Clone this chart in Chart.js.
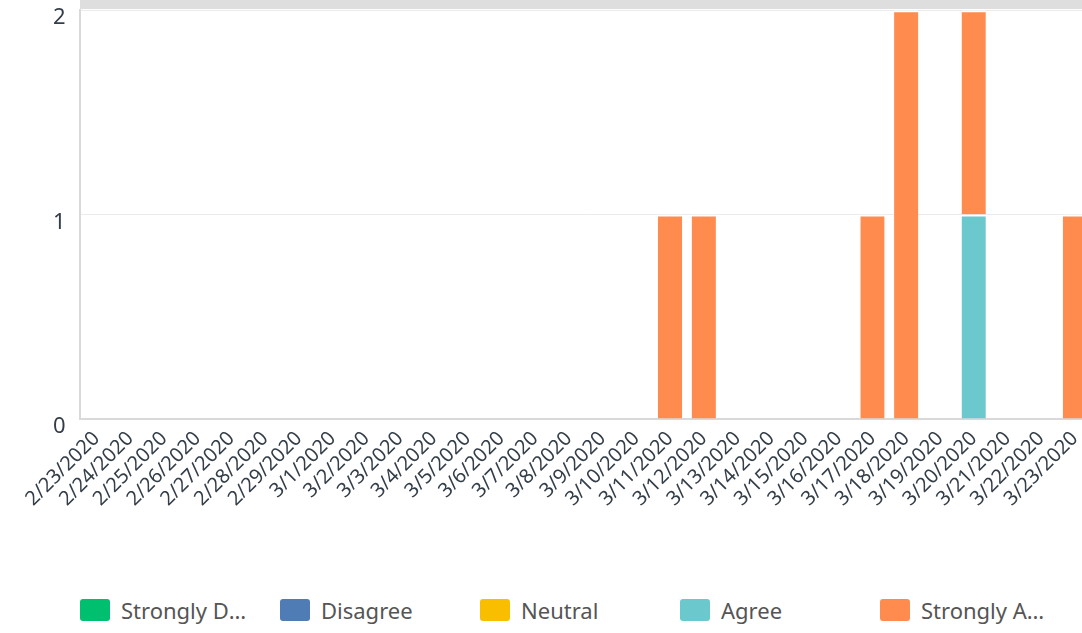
<!DOCTYPE html>
<html>
<head>
<meta charset="utf-8">
<script src="https://cdn.jsdelivr.net/npm/chart.js@4"></script>
<style>
  body { margin: 0; overflow: hidden; background: #fff; font-family: "Noto Sans", sans-serif; }
  .topBand { position: absolute; left: 80px; top: 0; width: 1020px; height: 9px; background: #dedede; }
  .chartBox { position: absolute; left: 0; top: -17px; width: 1100px; height: 536px; }
  .legend { position: absolute; left: 0; top: 598px; width: 1100px; height: 26px; }
  .legend .item { position: absolute; top: 0; display: flex; align-items: center; height: 24px; }
  .legend .swatch { width: 30px; height: 22px; border-radius: 3px; margin-right: 11px; }
  .legend .text { font-size: 22px; color: #555; white-space: nowrap; overflow: hidden; text-overflow: ellipsis; max-width: 128px; }
</style>
</head>
<body>
<div class="chartBox"><canvas id="chart"></canvas></div>
<div class="topBand"></div>
<div class="legend" id="legend"></div>
<script>
// categories
const dates = ["2/23/2020","2/24/2020","2/25/2020","2/26/2020","2/27/2020","2/28/2020","2/29/2020",
  "3/1/2020","3/2/2020","3/3/2020","3/4/2020","3/5/2020","3/6/2020","3/7/2020","3/8/2020","3/9/2020",
  "3/10/2020","3/11/2020","3/12/2020","3/13/2020","3/14/2020","3/15/2020","3/16/2020","3/17/2020",
  "3/18/2020","3/19/2020","3/20/2020","3/21/2020","3/22/2020","3/23/2020"];

const seriesNames = ["Strongly Disagree", "Disagree", "Neutral", "Agree", "Strongly Agree"];
const seriesColors = ["#00bf6f", "#507cb6", "#f9be00", "#6bc8cd", "#ff8b4f"];

// responses per day
const stronglyDisagree = [0,0,0,0,0,0,0,0,0,0,0,0,0,0,0,0,0,0,0,0,0,0,0,0,0,0,0,0,0,0];
const disagree         = [0,0,0,0,0,0,0,0,0,0,0,0,0,0,0,0,0,0,0,0,0,0,0,0,0,0,0,0,0,0];
const neutral          = [0,0,0,0,0,0,0,0,0,0,0,0,0,0,0,0,0,0,0,0,0,0,0,0,0,0,0,0,0,0];
const agree            = [0,0,0,0,0,0,0,0,0,0,0,0,0,0,0,0,0,0,0,0,0,0,0,0,0,0,1,0,0,0];
const stronglyAgree    = [0,0,0,0,0,0,0,0,0,0,0,0,0,0,0,0,0,1,1,0,0,0,0,1,2,0,1,0,0,1];

const yTicks = [0, 1, 2];

const values = [stronglyDisagree, disagree, neutral, agree, stronglyAgree];

let datasets = [];
for (let i = 0; i < seriesNames.length; i++) {
  datasets.push({
    label: seriesNames[i],
    data: values[i],
    backgroundColor: seriesColors[i],
    borderColor: "#ffffff",
    borderWidth: {top: 2, left: 0, right: 0, bottom: 0},
    borderSkipped: "start",
    categoryPercentage: 1,
    barPercentage: 0.72
  });
}

new Chart("chart", {
  type: "bar",
  data: { labels: dates, datasets: datasets },
  options: {
    responsive: true,
    maintainAspectRatio: false,
    animation: false,
    layout: { padding: { left: 39, top: 0, right: 7, bottom: 0 } },
    plugins: {
      legend: { display: false },
      tooltip: { enabled: false }
    },
    scales: {
      x: {
        stacked: true,
        grid: { display: false, drawTicks: false },
        border: { display: true, color: "#d9d9d9", width: 2 },
        ticks: {
          autoSkip: false,
          maxRotation: 45,
          minRotation: 45,
          padding: 8,
          color: "#333e48",
          font: { family: "Noto Sans", size: 20 }
        }
      },
      y: {
        stacked: true,
        min: yTicks[0],
        max: yTicks[yTicks.length - 1],
        afterBuildTicks: function(axis) {
          axis.ticks = yTicks.map(v => ({ value: v }));
        },
        grid: { color: "#ebebeb", lineWidth: 1, drawTicks: false },
        border: { display: true, color: "#d9d9d9", width: 2 },
        ticks: {
          padding: 14,
          labelOffset: 8,
          color: "#333e48",
          font: { family: "Noto Sans", size: 22 }
        }
      }
    }
  }
});

// legend
const legend = document.getElementById("legend");
seriesNames.forEach(function(name, i) {
  const item = document.createElement("div");
  item.className = "item";
  item.style.left = (80 + i * 200) + "px";
  item.innerHTML = '<span class="swatch" style="background:' + seriesColors[i] + '"></span><span class="text">' + name + '</span>';
  legend.appendChild(item);
});
</script>
</body>
</html>
